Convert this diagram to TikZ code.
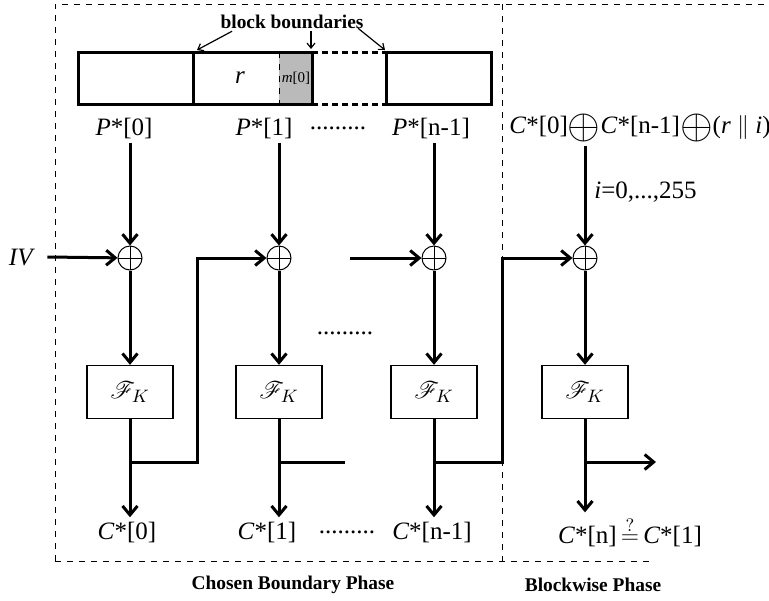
\documentclass[tikz,border=0pt]{standalone}
\usepackage{fontspec}
\setmainfont{Liberation Serif}
\usepackage{mathrsfs}
\usepackage{graphicx}
\usepackage{tikz}
\usetikzlibrary{arrows.meta,positioning}
\newcommand{\bigxor}{\raisebox{-0.45ex}{\scalebox{1.75}{$\oplus$}}}

\begin{document}
\begin{tikzpicture}[x=0.5pt, y=-0.5pt,
    flow/.style={line width=1.5pt, -{Straight Barb[length=4.5pt,width=7.5pt]}},
    wire/.style={line width=1.5pt},
    pointer/.style={line width=0.6pt, -{Straight Barb[length=2.5pt,width=4pt]}},
    xorop/.style={circle, draw, line width=0.5pt, minimum size=12pt, inner sep=0pt,
        path picture={\draw[line width=0.5pt] (path picture bounding box.north) -- (path picture bounding box.south)
            (path picture bounding box.west) -- (path picture bounding box.east);}},
    fbox/.style={rectangle, draw, line width=0.7pt, minimum width=43pt, minimum height=26.5pt,
        inner sep=0pt, font=\fontsize{12.5}{14}\selectfont},
    lbl/.style={font=\fontsize{12.5}{14}\selectfont, inner sep=2pt},
    phase/.style={font=\fontsize{9.7}{11}\selectfont\bfseries, inner sep=1pt},
    frame/.style={dashed, line width=0.5pt}
]
    \useasboundingbox (0,0) rectangle (769,600);
    % phase frames
    \draw[frame] (55,561) -- (55,4) -- (769,4);
    \draw[frame] (502,4) -- (502,561);
    \draw[frame] (55,561) -- (652,561);
    \node[phase] (cbp) at (293,585) {Chosen Boundary Phase};
    \node[phase] (bwp) at (593,585) {Blockwise Phase};

    % plaintext blocks
    \fill[black!27] (279,52) rectangle (312,104);
    \draw[wire] (78,52) rectangle (193,104);
    \draw[wire] (193,52) rectangle (312,104);
    \draw[wire] (386,52) rectangle (491,104);
    \draw[wire, dash pattern=on 3pt off 2pt] (312,52) -- (386,52) (312,104) -- (386,104);
    \draw[line width=0.5pt, dashed] (279,52) -- (279,104);
    \node[lbl] (r) at (240,78) {\textit{r}};
    \node[font=\fontsize{7.5}{9}\selectfont, inner sep=0pt] (m0) at (296,78) {\textit{m}[0]};

    \node[phase] (bb) at (292,22) {block boundaries};
    \coordinate (bd0) at (197,50);
    \coordinate (bd1) at (311,49);
    \coordinate (bd2) at (385,50);
    \draw[pointer] ([xshift=-30pt]bb.south) -- (bd0);
    \draw[pointer] ([xshift=9.5pt]bb.south) -- (bd1);
    \draw[pointer] ([xshift=33pt,yshift=1.5pt]bb.south) -- (bd2);

    % inputs
    \node[lbl] (p0) at (124,128) {\textit{P}*[0]};
    \node[lbl] (p1) at (264,128) {\textit{P}*[1]};
    \node[lbl] (pdots) at (338,128) {.........};
    \node[lbl] (pn) at (431,128) {\textit{P}*[n-1]};
    \node[lbl] (tl) at (640,128) {\textit{C}*[0]\bigxor\textit{C}*[n-1]\bigxor(\textit{r} $\parallel$ \textit{i})};
    \node[lbl, anchor=west] (il) at (590,192) {\textit{i}=0,...,255};
    \node[lbl] (iv) at (22,257) {\textit{IV}};

    % xor and cipher
    \node[xorop] (x0) at (130,258) {};
    \node[xorop] (x1) at (279,258) {};
    \node[xorop] (x2) at (434,258) {};
    \node[xorop] (x3) at (585,258) {};
    \node[fbox] (f0) at (130,392) {$\mathscr{F}_K$};
    \node[fbox] (f1) at (279,392) {$\mathscr{F}_K$};
    \node[fbox] (f2) at (434,392) {$\mathscr{F}_K$};
    \node[fbox] (f3) at (585,392) {$\mathscr{F}_K$};
    \node[lbl] (mdots) at (345,333) {.........};

    \coordinate (b0) at (130,462);
    \coordinate (b1) at (279,462);
    \coordinate (b2) at (434,462);
    \coordinate (b3) at (585,462);
    \coordinate (u0) at (197,462);
    \coordinate (e1) at (345,462);
    \coordinate (u2) at (502,462);
    \coordinate (e3) at (656,462);
    \coordinate (g2) at (350,258);

    % outputs
    \node[lbl] (c0) at (127,532) {\textit{C}*[0]};
    \node[lbl] (c1) at (267,532) {\textit{C}*[1]};
    \node[lbl] (cdots) at (347,532) {.........};
    \node[lbl] (cn) at (432,532) {\textit{C}*[n-1]};
    \node[lbl] (cf) at (630,532) {\textit{C}*[n]\,$\stackrel{?}{=}$\,\textit{C}*[1]};

    \foreach \i/\p in {0/p0,1/p1,2/pn,3/tl}
        \draw[flow] (\p.south -| x\i) -- (x\i);
    \foreach \i in {0,...,3} {
        \draw[flow] (x\i) -- (f\i);
        \draw[wire] (f\i) -- (b\i);
    }
    \foreach \i/\c in {0/c0,1/c1,2/cn,3/cf}
        \draw[flow] (b\i) -- (\c.north -| b\i);

    \draw[flow] ([xshift=4pt]iv.east) -- (x0);
    \draw[flow] (b0) -- (u0) |- (x1);
    \draw[wire] (b1) -- (e1);
    \draw[flow] (g2) -- (x2);
    \draw[flow] (b2) -- (u2) |- (x3);
    \draw[flow] (b3) -- (e3);
\end{tikzpicture}
\end{document}
